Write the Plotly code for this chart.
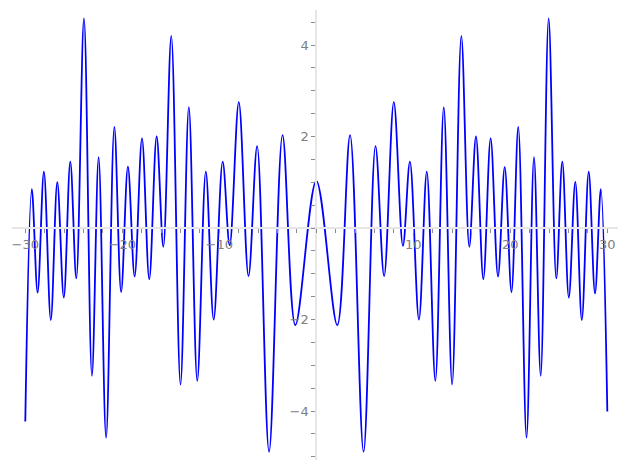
import plotly.graph_objects as go

margin = go.layout.Margin(l=12, r=9, b=10, t=10, pad=0)

c_blue = '#0000ff'
c_axis = '#e6e6e6'
c_tick = '#8c8c8c'
c_label = '#808080'

# turning points of the curve (left half, then right half)
x_left = [-30.0, -29.33, -28.73, -28.08, -27.37, -26.70, -26.03, -25.36, -24.74,
          -23.95, -23.13, -22.44, -21.67, -20.82, -20.12, -19.42, -18.73, -17.97,
          -17.22, -16.46, -15.77, -14.95, -14.00, -13.14, -12.27, -11.39, -10.58,
          -9.65, -8.93, -7.99, -6.99, -6.10, -4.87, -3.48, -2.16, 0.0]
y_left = [-4.23, 0.85, -1.41, 1.23, -2.01, 1.00, -1.52, 1.45, -1.10,
          4.58, -3.23, 1.55, -4.58, 2.21, -1.40, 1.34, -1.06, 1.96,
          -1.12, 2.00, -0.41, 4.20, -3.42, 2.64, -3.34, 1.23, -2.00,
          1.45, -0.38, 2.75, -1.05, 1.79, -4.89, 2.03, -2.12, 1.03]

x_right = [2.16, 3.48, 4.87, 6.10, 6.99, 7.99, 8.93, 9.65, 10.58,
           11.39, 12.27, 13.14, 14.00, 14.95, 15.77, 16.46, 17.22, 17.97,
           18.73, 19.42, 20.12, 20.82, 21.67, 22.44, 23.13, 23.95, 24.74,
           25.36, 26.03, 26.70, 27.37, 28.08, 28.73, 29.33, 30.0]
y_right = [-2.12, 2.03, -4.89, 1.79, -1.05, 2.75, -0.39, 1.45, -2.00,
           1.23, -3.34, 2.64, -3.42, 4.20, -0.41, 2.00, -1.12, 1.96,
           -1.06, 1.33, -1.40, 2.21, -4.58, 1.55, -3.23, 4.58, -1.10,
           1.45, -1.52, 1.01, -2.01, 1.23, -1.43, 0.85, -4.01]

x_ticks = [-30, -20, -10, 10, 20, 30]
x_ticktext = ['\u221230', '\u221220', '\u221210', '10', '20', '30']
y_ticks = [-4, -2, 2, 4]
y_ticktext = ['\u22124', '\u22122', '2', '4']

x_range = [-31.37, 31.10]
y_range = [-5.07, 4.765]

fig = go.Figure(go.Scatter(
    x=x_left + x_right,
    y=y_left + y_right,
    mode='lines',
    line=dict(color=c_blue, width=1.8, shape='spline', smoothing=1),
    showlegend=False,
))

# axes cross at the origin, like the original
x_pos = (0 - x_range[0]) / (x_range[1] - x_range[0])
y_pos = (0 - y_range[0]) / (y_range[1] - y_range[0])

fig.update_layout(
    width=627,
    height=470,
    margin=margin,
    paper_bgcolor='white',
    plot_bgcolor='white',
    font=dict(family='DejaVu Sans', size=13, color=c_label),
    xaxis=dict(
        range=x_range,
        anchor='free',
        position=y_pos,
        showgrid=False,
        zeroline=False,
        showline=True,
        linecolor=c_axis,
        linewidth=2,
        tickmode='array',
        tickvals=x_ticks,
        ticktext=x_ticktext,
        ticks='outside',
        ticklen=4,
        tickwidth=1,
        tickcolor=c_tick,
        minor=dict(dtick=2, tick0=0, ticks='outside', ticklen=4,
                   tickwidth=1, tickcolor=c_tick, showgrid=False),
    ),
    yaxis=dict(
        range=y_range,
        anchor='free',
        position=x_pos,
        showgrid=False,
        zeroline=False,
        showline=True,
        linecolor=c_axis,
        linewidth=2,
        tickmode='array',
        tickvals=y_ticks,
        ticktext=y_ticktext,
        ticks='outside',
        ticklen=4,
        tickwidth=1,
        tickcolor=c_tick,
        minor=dict(dtick=0.5, tick0=0, ticks='outside', ticklen=4,
                   tickwidth=1, tickcolor=c_tick, showgrid=False),
    ),
)

# drop the browser's default page margin so the figure sits at (0, 0)
fig.write_html("out.html", config={'displayModeBar': False},
               post_script="document.body.style.margin='0';")
